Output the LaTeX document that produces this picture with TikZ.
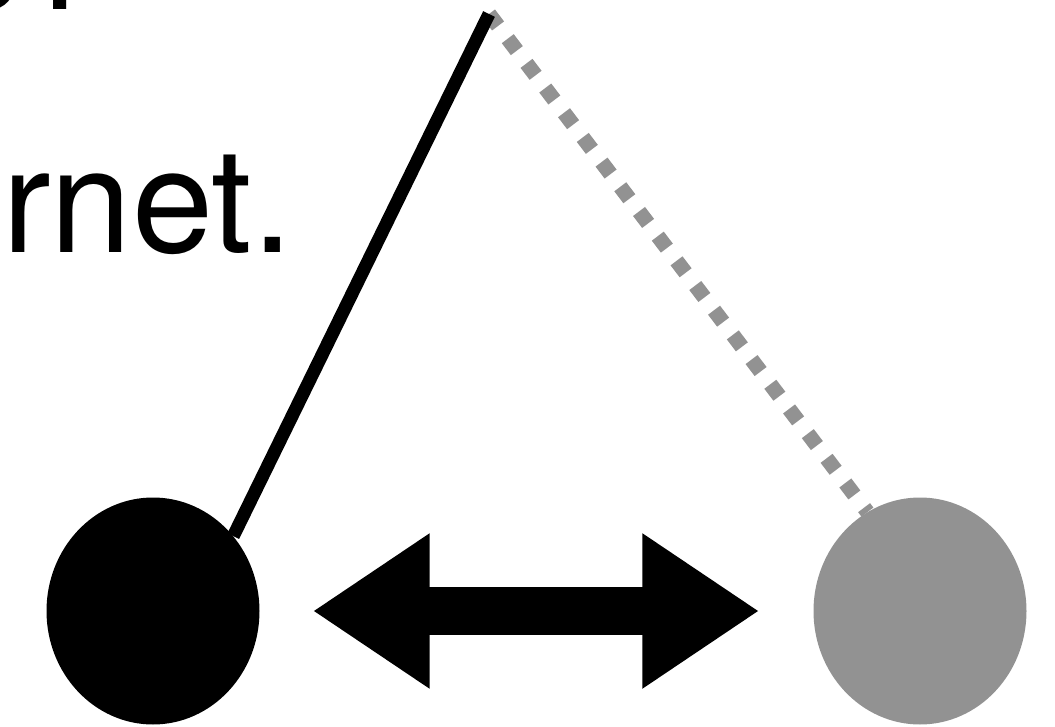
\documentclass[tikz,border=0pt]{standalone}
\usepackage{fontspec}
\setmainfont{TeX Gyre Heros}
\usetikzlibrary{shapes.geometric,arrows.meta}
\definecolor{dotgrey}{RGB}{146,146,146}
\tikzset{
    bigtext/.style={anchor=base east, inner sep=0pt, font=\fontsize{146}{146}\selectfont},
    dot/.style={ellipse, inner sep=0pt, minimum width=213pt, minimum height=227pt},
    fat/.style={line width=48pt, {Triangle[length=117pt,width=147pt]}-{Triangle[length=117pt,width=147pt]}}
}
\begin{document}
\begin{tikzpicture}[x=1pt,y=-1pt]
    \useasboundingbox (0,0) rectangle (1055,727);
    \clip (0,0) rectangle (1055,727);

    % Text, cut by the frame
    \node[bigtext] (question) at (101,10) {s?};
    \node[bigtext] (internet) at (293,253) {Internet.};

    % The two dots
    \node[dot, fill=black] (blackdot) at (153,611) {};
    \node[dot, fill=dotgrey] (greydot) at (920,611) {};

    % The two links
    \coordinate (apex) at (489,14);
    \draw[dotgrey, line width=15pt, dash pattern=on 15pt off 16pt] (apex) -- (greydot.118);
    \draw[line width=13pt] (apex) -- (blackdot.43);

    % Both ways
    \draw[fat, shorten <=53pt, shorten >=54pt] (blackdot.east) -- (greydot.west);

\end{tikzpicture}
\end{document}
